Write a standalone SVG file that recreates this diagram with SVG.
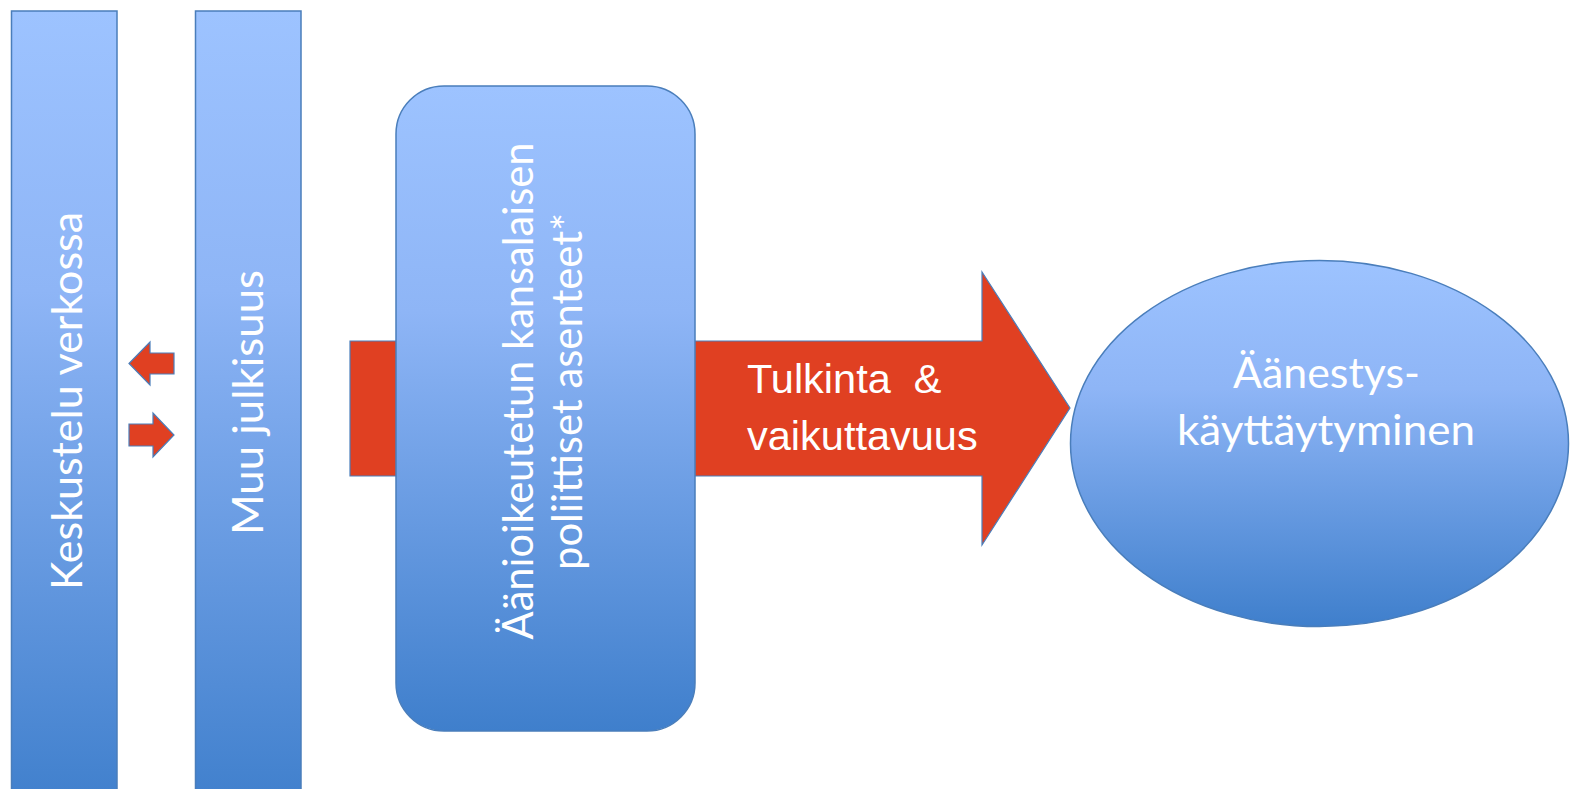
<svg xmlns="http://www.w3.org/2000/svg" width="1572" height="789" viewBox="0 0 1572 789">
  <defs>
    <linearGradient id="blueGrad" x1="0" y1="0" x2="0" y2="1">
      <stop offset="0" stop-color="#9DC3FF"/>
      <stop offset="0.35" stop-color="#8EB5F6"/>
      <stop offset="1" stop-color="#3F7FCC"/>
    </linearGradient>
  </defs>
  <style>
    .shape { fill: url(#blueGrad); stroke: #4A7EBB; stroke-width: 1.5; }
    .arrow { fill: #E04022; stroke: #4A7EBB; stroke-width: 1.2; stroke-linejoin: miter; }
    .lbl { fill: #FFFFFF; font-family: Lato, "Open Sans", "Noto Sans", sans-serif; font-size: 42px; }
    .albl { fill: #FFFFFF; font-family: "Liberation Sans", Arial, sans-serif; font-size: 41.5px; }
  </style>
  <rect width="1572" height="789" fill="#FFFFFF"/>

  <g id="node-keskustelu">
    <rect class="shape" x="11.5" y="11" width="105.5" height="800"/>
    <text class="lbl" transform="translate(82,401) rotate(-90)" text-anchor="middle" textLength="378" lengthAdjust="spacingAndGlyphs">Keskustelu verkossa</text>
  </g>

  <g id="node-julkisuus">
    <rect class="shape" x="195.5" y="11" width="105.5" height="800"/>
    <text class="lbl" transform="translate(263,402.5) rotate(-90)" text-anchor="middle" textLength="265" lengthAdjust="spacingAndGlyphs">Muu julkisuus</text>
  </g>

  <g id="connectors">
    <polygon class="arrow" points="129,363.5 150,342 150,353 174,353 174,374 150,374 150,385"/>
    <polygon class="arrow" points="129,424 153,424 153,413 174,435 153,457 153,446 129,446"/>
    <polygon class="arrow" points="350,341 982,341 982,272 1070,408 982,545 982,476 350,476"/>
    <text class="albl" x="747" y="393" xml:space="preserve">Tulkinta  &amp;</text>
    <text class="albl" x="747" y="450">vaikuttavuus</text>
  </g>

  <g id="node-asenteet">
    <rect class="shape" x="396" y="86" width="299" height="645" rx="48" ry="48"/>
    <text class="lbl" transform="translate(533,391) rotate(-90)" text-anchor="middle" textLength="497" lengthAdjust="spacingAndGlyphs">Äänioikeutetun kansalaisen</text>
    <text class="lbl" transform="translate(582,391.5) rotate(-90)" text-anchor="middle" textLength="357" lengthAdjust="spacingAndGlyphs">poliittiset asenteet*</text>
  </g>

  <g id="node-aanestys">
    <ellipse class="shape" cx="1319.5" cy="443.5" rx="249" ry="183"/>
    <text class="lbl" x="1326.5" y="388" text-anchor="middle" textLength="187" lengthAdjust="spacingAndGlyphs">Äänestys-</text>
    <text class="lbl" x="1326" y="445" text-anchor="middle" textLength="298" lengthAdjust="spacingAndGlyphs">käyttäytyminen</text>
  </g>
</svg>
